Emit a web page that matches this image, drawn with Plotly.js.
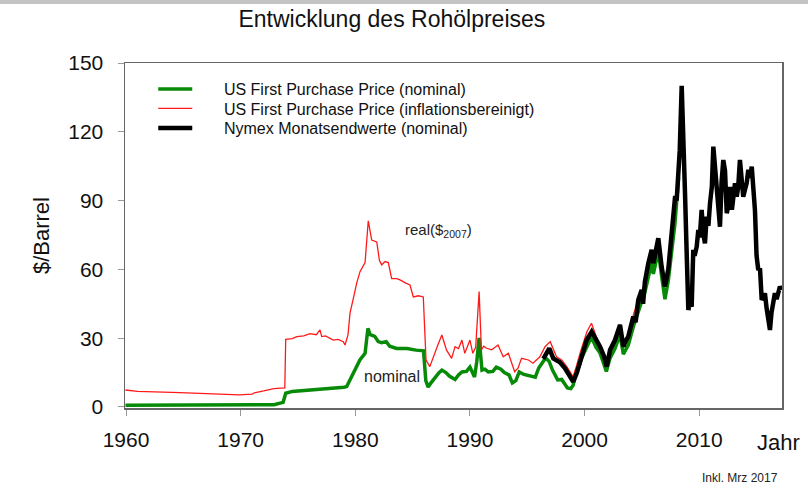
<!DOCTYPE html>
<html>
<head>
<meta charset="utf-8">
<script src="https://cdn.plot.ly/plotly-3.0.1.min.js"></script>
<style>
  html, body { margin: 0; padding: 0; background: #fff; }
  #plot { width: 808px; height: 489px; }
</style>
</head>
<body>
<div id="plot"></div>
<script>
// US First Purchase Price, nominal ($/Barrel)
const nomYears = [1959.95, 1971.0, 1972.9, 1973.7, 1973.93, 1974.5, 1975.5, 1976.5, 1977.5, 1978.5,
  1979.0, 1979.25, 1979.5, 1979.8, 1980.1, 1980.4, 1980.85, 1981.1, 1981.3, 1981.7,
  1982.0, 1982.3, 1982.7, 1983.0, 1983.6, 1984.5, 1985.3, 1985.95, 1986.15, 1986.35,
  1986.6, 1986.9, 1987.3, 1987.55, 1987.9, 1988.2, 1988.7, 1989.0, 1989.3, 1989.7,
  1990.0, 1990.4, 1990.6, 1990.8, 1991.05, 1991.3, 1991.6, 1992.0, 1992.3, 1992.7,
  1993.0, 1993.4, 1993.7, 1994.0, 1994.3, 1994.7, 1995.2, 1995.7, 1996.0, 1996.3,
  1996.6, 1996.9, 1997.2, 1997.65, 1998.0, 1998.3, 1998.5, 1998.8, 1999.0, 1999.2,
  1999.5, 1999.75, 2000.2, 2000.6, 2001.0, 2001.35, 2001.9, 2002.2, 2002.65, 2003.09,
  2003.38, 2003.81, 2004.25, 2004.68, 2004.98, 2005.26, 2005.56, 2005.85, 2006.0, 2006.43,
  2006.72, 2007.01, 2007.3, 2007.6, 2007.88, 2008.2];
const nomPrice = [0.8, 0.8, 1.0, 2.0, 6.0, 6.8, 7.2, 7.5, 7.8, 8.2,
  8.6, 8.9, 11.5, 14.7, 17.5, 20.5, 23.4, 34.3, 31.5, 30.8,
  28.5, 28.0, 28.5, 26.5, 25.5, 25.5, 24.8, 24.5, 11.5, 8.7,
  10.5, 12.5, 15.0, 16.1, 15.0, 13.5, 12.0, 14.0, 15.3, 15.5,
  17.4, 13.1, 20.0, 30.1, 16.1, 16.5, 15.3, 15.5, 17.4, 16.5,
  15.0, 14.0, 10.5, 11.5, 15.3, 14.2, 13.5, 13.0, 17.0, 19.2,
  21.4, 20.0, 16.1, 11.8, 12.0, 9.8, 8.3, 8.0, 9.5, 14.0,
  17.5, 21.5, 26.3, 30.5, 26.0, 23.5, 15.5, 21.0, 25.5, 31.5,
  23.0, 27.0, 35.0, 42.0, 46.0, 50.0, 57.0, 63.0, 58.0, 68.0,
  57.0, 47.0, 55.0, 67.0, 80.0, 100.0];

// US First Purchase Price, inflation adjusted ($2007)
const realYears = [1959.95, 1961.0, 1964.7, 1968.2, 1969.9, 1971.0, 1971.2, 1972.0, 1972.9, 1973.85,
  1973.93, 1974.5, 1974.9, 1975.5, 1976.05, 1976.6, 1976.92, 1977.07, 1977.4, 1978.08,
  1978.5, 1978.95, 1979.1, 1979.36, 1979.54, 1979.8, 1980.12, 1980.41, 1980.85, 1981.13,
  1981.43, 1981.87, 1982.1, 1982.3, 1982.6, 1982.88, 1983.17, 1983.6, 1983.9, 1984.4,
  1984.77, 1985.06, 1985.5, 1985.93, 1986.17, 1986.5, 1986.8, 1987.2, 1987.55, 1987.95,
  1988.4, 1988.7, 1989.0, 1989.3, 1989.55, 1990.0, 1990.25, 1990.5, 1990.8, 1991.0,
  1991.2, 1991.45, 1991.9, 1992.2, 1992.45, 1992.9, 1993.35, 1993.9, 1994.2, 1994.5,
  1995.1, 1995.5, 1996.1, 1996.55, 1997.0, 1997.55, 1998.0, 1998.45, 1999.0, 1999.3,
  1999.6, 2000.2, 2000.6, 2001.0, 2001.35, 2001.9, 2002.22, 2002.65, 2003.09, 2003.38,
  2003.81, 2004.25, 2004.68, 2004.98, 2005.26, 2005.56, 2005.85, 2006.0, 2006.43, 2006.72,
  2007.01, 2007.3, 2007.6, 2007.88, 2008.2];
const realPrice = [7.4, 6.8, 6.3, 5.8, 5.3, 5.6, 6.2, 7.0, 8.0, 8.3,
  29.5, 29.8, 30.7, 31.0, 32.0, 31.5, 33.6, 30.7, 31.0, 29.2,
  29.5, 28.5, 27.0, 31.4, 41.0, 46.7, 54.0, 59.0, 63.0, 81.2,
  72.8, 72.0, 64.0, 62.0, 63.4, 63.0, 56.0, 56.0, 55.4, 54.0,
  53.2, 48.0, 48.5, 48.0, 20.5, 17.6, 21.9, 27.0, 31.4, 24.9,
  21.2, 26.3, 25.5, 29.2, 23.4, 29.2, 23.4, 26.0, 50.3, 24.9,
  26.5, 25.6, 24.9, 26.0, 27.0, 21.9, 23.4, 15.4, 17.0, 21.2,
  20.5, 19.1, 21.9, 26.3, 28.5, 21.9, 20.5, 17.6, 13.2, 18.0,
  23.4, 32.8, 36.5, 31.0, 26.3, 19.5, 25.5, 29.5, 36.0, 27.0,
  31.0, 40.0, 47.0, 51.0, 54.0, 62.0, 68.0, 63.0, 73.0, 61.0,
  54.0, 60.0, 72.0, 85.0, 104.0];

// Nymex month-end prices (nominal)
const nymexYears = [1996.4, 1996.92, 1997.27, 1997.6, 1997.85, 1998.29, 1998.73, 1999.01, 1999.31, 1999.55,
  1999.75, 2000.18, 2000.62, 2001.06, 2001.35, 2001.7, 2001.93, 2002.22, 2002.65, 2003.09,
  2003.38, 2003.6, 2003.81, 2004.25, 2004.45, 2004.68, 2004.98, 2005.1, 2005.26, 2005.56,
  2005.85, 2006.0, 2006.3, 2006.43, 2006.72, 2007.01, 2007.3, 2007.55, 2007.75, 2007.9,
  2008.03, 2008.2, 2008.3, 2008.47, 2008.6, 2008.76, 2008.9, 2009.05, 2009.2, 2009.34,
  2009.48, 2009.6, 2009.78, 2009.92, 2010.05, 2010.21, 2010.35, 2010.5, 2010.65, 2010.8,
  2010.94, 2011.1, 2011.23, 2011.4, 2011.52, 2011.65, 2011.81, 2011.95, 2012.1, 2012.25,
  2012.4, 2012.55, 2012.69, 2012.85, 2012.97, 2013.12, 2013.27, 2013.4, 2013.55, 2013.7,
  2013.84, 2014.0, 2014.14, 2014.28, 2014.45, 2014.58, 2014.75, 2014.86, 2015.0, 2015.15,
  2015.3, 2015.45, 2015.6, 2015.73, 2015.88, 2016.02, 2016.17, 2016.3, 2016.46, 2016.6,
  2016.75, 2016.89, 2017.04, 2017.19];
const nymexPrice = [21.0, 25.6, 21.2, 20.5, 19.5, 16.9, 13.2, 11.0, 14.7, 19.0,
  21.9, 29.2, 32.8, 29.2, 26.3, 22.0, 17.6, 24.9, 29.2, 35.8,
  26.3, 29.0, 30.7, 39.4, 37.0, 46.7, 51.0, 45.0, 54.6, 62.7,
  68.5, 62.7, 70.0, 73.6, 61.2, 52.5, 60.0, 72.0, 82.0, 92.0,
  90.0, 103.0, 112.0, 140.0, 123.0, 93.2, 68.0, 42.3, 46.0, 43.7,
  68.5, 66.0, 69.9, 77.2, 74.0, 85.9, 75.8, 71.4, 83.0, 79.0,
  88.8, 96.0, 113.5, 104.0, 97.6, 86.0, 78.6, 98.0, 107.7, 103.0,
  84.5, 88.0, 96.0, 86.0, 91.7, 97.6, 91.7, 96.0, 107.7, 101.0,
  91.7, 95.0, 97.6, 103.4, 100.0, 104.8, 95.0, 85.9, 66.0, 59.7,
  60.5, 46.7, 48.0, 49.6, 43.0, 37.9, 33.6, 41.0, 45.2, 49.6,
  47.0, 51.0, 52.5, 51.0];

const xTicks = [1960, 1970, 1980, 1990, 2000, 2010];
const yTicks = [0, 30, 60, 90, 120, 150];

const font = "Liberation Sans, Arial, sans-serif";
const pad = "\u00a0\u00a0\u00a0\u00a0\u00a0\u00a0";

const traceNominal = {
  x: nomYears,
  y: nomPrice,
  name: pad + "US First Purchase Price (nominal)",
  legend: "legend",
  type: "scatter",
  mode: "lines",
  line: {color: "#078a07", width: 3.5}
};

const traceReal = {
  x: realYears,
  y: realPrice,
  name: pad + "US First Purchase Price (inflationsbereinigt)",
  legend: "legend2",
  type: "scatter",
  mode: "lines",
  line: {color: "#ff1a1a", width: 1.3}
};

const traceNymex = {
  x: nymexYears,
  y: nymexPrice,
  name: pad + "Nymex Monatsendwerte (nominal)",
  legend: "legend3",
  type: "scatter",
  mode: "lines",
  line: {color: "#000000", width: 4.5}
};

// one legend per entry so the rows sit as tight as in the original
function legendAt(y) {
  return {
    x: 0.043, xanchor: "left",
    y: y, yanchor: "middle",
    bgcolor: "rgba(0,0,0,0)",
    font: {size: 16, family: font, color: "#111"},
    itemwidth: 34
  };
}

const layout = {
  width: 808,
  height: 489,
  paper_bgcolor: "#ffffff",
  plot_bgcolor: "#ffffff",
  font: {family: font, color: "#111"},
  margin: {l: 125, r: 26, t: 63, b: 81},
  showlegend: true,
  title: {
    text: "Entwicklung des Rohölpreises",
    font: {size: 23, family: font, color: "#111"},
    x: 0.485, xanchor: "center",
    y: 0.962, yanchor: "middle"
  },
  xaxis: {
    range: [1959.91, 2017.22],
    tickvals: xTicks,
    ticktext: xTicks.map(String),
    ticks: "outside",
    ticklen: 6,
    tickcolor: "#999",
    tickfont: {size: 21, family: font, color: "#111"},
    ticklabelstandoff: 6,
    showline: true,
    linecolor: "#666",
    linewidth: 1.5,
    mirror: true,
    showgrid: false,
    zeroline: false
  },
  yaxis: {
    range: [-0.44, 150],
    tickvals: yTicks,
    ticks: "outside",
    ticklen: 6,
    tickcolor: "#999",
    tickfont: {size: 21, family: font, color: "#111"},
    ticklabelstandoff: 10,
    showline: true,
    linecolor: "#666",
    linewidth: 1.5,
    mirror: true,
    showgrid: false,
    zeroline: false,
    title: {text: "$/Barrel", font: {size: 22, family: font, color: "#111"}, standoff: 12}
  },
  legend: legendAt(0.9246),
  legend2: legendAt(0.868),
  legend3: legendAt(0.8116),
  shapes: [
    {type: "rect", xref: "paper", yref: "paper", x0: -0.2, x1: 1.1, y0: 1.171, y1: 1.2,
     fillcolor: "#c4c4c4", line: {width: 0}}
  ],
  annotations: [
    {x: 1984.16, y: 77, xref: "x", yref: "y", xanchor: "left", yanchor: "middle",
     text: "real($<sub>2007</sub>)", showarrow: false, font: {size: 15, family: font, color: "#222"}},
    {x: 1980.58, y: 13.3, xref: "x", yref: "y", xanchor: "left", yanchor: "middle",
     text: "nominal", showarrow: false, font: {size: 16, family: font, color: "#222"}},
    {x: 0.959, y: -0.101, xref: "paper", yref: "paper", xanchor: "left", yanchor: "middle",
     text: "Jahr", showarrow: false, font: {size: 22, family: font, color: "#111"}},
    {x: 0.875, y: -0.203, xref: "paper", yref: "paper", xanchor: "left", yanchor: "middle",
     text: "Inkl. Mrz 2017", showarrow: false, font: {size: 12, family: font, color: "#222"}}
  ]
};

Plotly.newPlot("plot", [traceNominal, traceReal, traceNymex], layout, {displayModeBar: false, staticPlot: true});
</script>
</body>
</html>
